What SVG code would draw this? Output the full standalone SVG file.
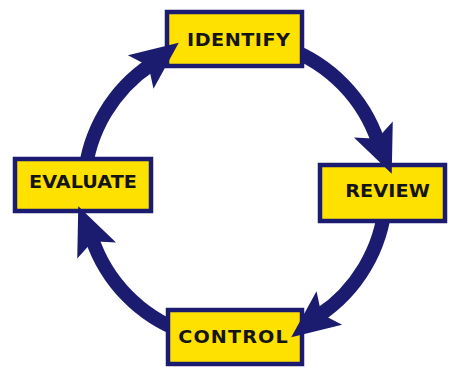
<svg xmlns="http://www.w3.org/2000/svg" xmlns:xlink="http://www.w3.org/1999/xlink" width="450" height="367" viewBox="0 0 450 367">
  <style>
    .arc { fill: none; stroke: #1b1c70; stroke-width: 14; stroke-linecap: butt; }
    .box { fill: #ffe100; stroke: #1b1c70; stroke-width: 4.5; }
    .lbl { font-family: "DejaVu Sans", "Liberation Sans", sans-serif; font-weight: bold; font-size: 17px; fill: #141414; text-anchor: middle; }
    .head { fill: #1b1c70; }
  </style>
  <defs>
    <polygon id="arrowhead" points="-3,-21 45,0 -3,21 7,0"/>
  </defs>
  <rect width="450" height="367" fill="#ffffff"/>
  <g id="connectors">
    <path class="arc" d="M84.57,176.84 A151,151 0 0 1 151.66,64.08"/>
    <path class="arc" d="M286.65,48.11 A151,151 0 0 1 378.20,142.09"/>
    <path class="arc" d="M385.43,203.16 A151,151 0 0 1 318.34,315.92"/>
    <path class="arc" d="M183.35,331.89 A151,151 0 0 1 91.80,237.91"/>
  </g>
  <g id="identify">
    <rect class="box" x="167" y="12" width="135" height="54"/>
    <text class="lbl" transform="translate(238.5,46) scale(1.13,1)" textLength="91" lengthAdjust="spacing">IDENTIFY</text>
  </g>
  <g id="review">
    <rect class="box" x="320" y="165" width="125" height="56"/>
    <text class="lbl" transform="translate(387.5,197) scale(1.13,1)" textLength="75" lengthAdjust="spacing">REVIEW</text>
  </g>
  <g id="control">
    <rect class="box" x="168" y="310" width="134" height="54"/>
    <text class="lbl" transform="translate(233,343) scale(1.13,1)" textLength="97" lengthAdjust="spacing">CONTROL</text>
  </g>
  <g id="evaluate">
    <rect class="box" x="15" y="159" width="136" height="52"/>
    <text class="lbl" transform="translate(83,188) scale(1.13,1)" textLength="95.5" lengthAdjust="spacing">EVALUATE</text>
  </g>
  <g id="arrowheads" class="head">
    <use xlink:href="#arrowhead" href="#arrowhead" transform="translate(143.07,70.20) rotate(-37.5)"/>
    <use xlink:href="#arrowhead" href="#arrowhead" transform="translate(374.51,132.22) rotate(67.5)"/>
    <use xlink:href="#arrowhead" href="#arrowhead" transform="translate(326.92,309.80) rotate(142.5)"/>
    <use xlink:href="#arrowhead" href="#arrowhead" transform="translate(95.49,247.78) rotate(247.5)"/>
  </g>
</svg>
